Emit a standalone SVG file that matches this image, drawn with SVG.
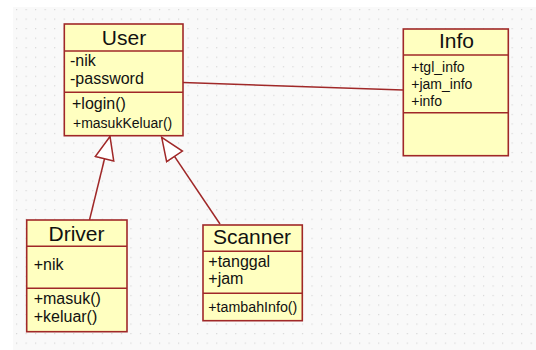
<svg xmlns="http://www.w3.org/2000/svg" width="536" height="350" viewBox="0 0 536 350">
  <defs>
    <pattern id="grid" x="16" y="9" width="9.53" height="9.53" patternUnits="userSpaceOnUse">
      <rect x="0" y="0" width="1.2" height="1.2" fill="#d6d6d6"/>
    </pattern>
    <marker id="gen" markerUnits="userSpaceOnUse" markerWidth="30" markerHeight="30" refX="24" refY="10" orient="auto" viewBox="0 0 30 20">
      <path d="M24,10 L1,0.5 L1,19.5 Z" fill="#ffffff" stroke="#a02828" stroke-width="1.5"/>
    </marker>
    <style>
      .box { fill: #ffffc0; stroke: #a02828; stroke-width: 1.6; }
      .sep { stroke: #a02828; stroke-width: 1.6; }
      .conn { stroke: #a02828; stroke-width: 1.5; fill: none; }
      .title { font-family: "Liberation Sans", Arial, sans-serif; font-size: 21px; fill: #111; text-anchor: middle; }
      .attr { font-family: "Liberation Sans", Arial, sans-serif; font-size: 16px; fill: #111; }
      .small { font-family: "Liberation Sans", Arial, sans-serif; font-size: 14px; fill: #111; }
    </style>
  </defs>

  <!-- canvas -->
  <rect x="0" y="0" width="536" height="350" fill="#ffffff"/>
  <rect x="13" y="7" width="523" height="343" fill="#f9f9f9"/>
  <rect x="13" y="7" width="523" height="343" fill="url(#grid)"/>

  <!-- connectors -->
  <g id="connectors">
    <line class="conn" x1="183" y1="82.5" x2="403" y2="90"/>
    <line class="conn" x1="89.5" y1="220" x2="110" y2="136.5" marker-end="url(#gen)"/>
    <line class="conn" x1="220" y1="224" x2="161.7" y2="137.3" marker-end="url(#gen)"/>
  </g>

  <!-- User -->
  <g id="user">
    <rect class="box" x="64.3" y="24" width="118.7" height="111.7"/>
    <line class="sep" x1="64.3" y1="51" x2="183" y2="51"/>
    <line class="sep" x1="64.3" y1="92.3" x2="183" y2="92.3"/>
    <text class="title" x="124" y="45">User</text>
    <text class="attr" x="70" y="65.7">-nik</text>
    <text class="attr" x="70" y="84.3">-password</text>
    <text class="attr" x="72" y="109">+login()</text>
    <text class="small" x="73" y="127.7">+masukKeluar()</text>
  </g>

  <!-- Info -->
  <g id="info">
    <rect class="box" x="403.3" y="29" width="105" height="126.7"/>
    <line class="sep" x1="403.3" y1="55" x2="508.3" y2="55"/>
    <line class="sep" x1="403.3" y1="112.7" x2="508.3" y2="112.7"/>
    <text class="title" x="456.5" y="48.3" font-size="20.5">Info</text>
    <text class="small" x="411.3" y="72.3">+tgl_info</text>
    <text class="small" x="411.3" y="89">+jam_info</text>
    <text class="small" x="411.3" y="106">+info</text>
  </g>

  <!-- Driver -->
  <g id="driver">
    <rect class="box" x="26.7" y="220" width="100.3" height="111.7"/>
    <line class="sep" x1="26.7" y1="246.3" x2="127" y2="246.3"/>
    <line class="sep" x1="26.7" y1="288.3" x2="127" y2="288.3"/>
    <text class="title" x="76.5" y="241">Driver</text>
    <text class="attr" x="33.7" y="270">+nik</text>
    <text class="attr" x="33.7" y="304">+masuk()</text>
    <text class="attr" x="33.7" y="321.7">+keluar()</text>
  </g>

  <!-- Scanner -->
  <g id="scanner">
    <rect class="box" x="203" y="225" width="99.3" height="95.7"/>
    <line class="sep" x1="203" y1="251.3" x2="302.3" y2="251.3"/>
    <line class="sep" x1="203" y1="293.3" x2="302.3" y2="293.3"/>
    <text class="title" x="252" y="244">Scanner</text>
    <text class="attr" x="208.3" y="266.7">+tanggal</text>
    <text class="attr" x="208.3" y="284.3">+jam</text>
    <text class="small" x="208.3" y="311.7" textLength="89" lengthAdjust="spacingAndGlyphs">+tambahInfo()</text>
  </g>
</svg>
